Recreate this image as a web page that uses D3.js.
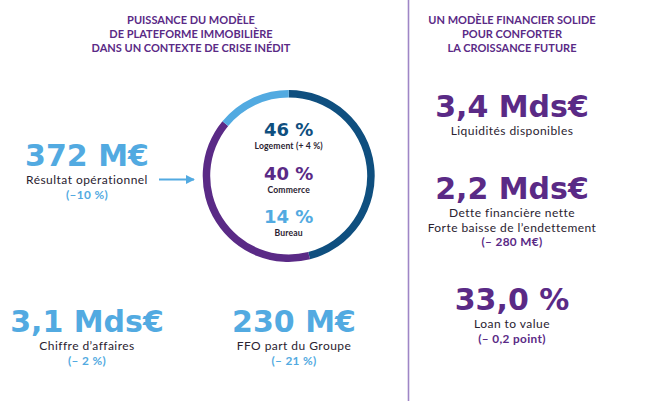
<!DOCTYPE html>
<html><head><meta charset="utf-8">
<script src="https://cdn.jsdelivr.net/npm/d3@7"></script>
<style>
html,body{margin:0;padding:0;background:#fff;}
svg{display:block;}
</style></head>
<body>
<svg id="chart" width="657" height="401"></svg>
<script>
// ---- data ----
const segmentNames = ["Logement (+ 4 %)", "Commerce", "Bureau"];
const segmentShares = [46, 40, 14];
const segmentLabels = ["46 %", "40 %", "14 %"];
const segmentColors = ["#0f4f7f", "#5a2a86", "#52aae1"];

const leftTitle = ["PUISSANCE DU MODÈLE", "DE PLATEFORME IMMOBILIÈRE", "DANS UN CONTEXTE DE CRISE INÉDIT"];
const rightTitle = ["UN MODÈLE FINANCIER SOLIDE", "POUR CONFORTER", "LA CROISSANCE FUTURE"];

const leftKpiValues = ["372 M€", "3,1 Mds€", "230 M€"];
const leftKpiLabels = [["Résultat opérationnel"], ["Chiffre d’affaires"], ["FFO part du Groupe"]];
const leftKpiChanges = ["(–10 %)", "(– 2 %)", "(– 21 %)"];

const rightKpiValues = ["3,4 Mds€", "2,2 Mds€", "33,0 %"];
const rightKpiLabels = [["Liquidités disponibles"], ["Dette financière nette", "Forte baisse de l’endettement"], ["Loan to value"]];
const rightKpiChanges = ["", "(– 280 M€)", "(– 0,2 point)"];

// ---- drawing ----
const svg = d3.select("#chart");
const PURPLE = "#5a2a86", LIGHT = "#52aae1", DARK = "#2a2230";
const bigFont = "'DejaVu Sans', sans-serif";
const smallFont = "Lato, 'Open Sans', sans-serif";

// titles
function title(lines, cx){
  const t = svg.append("text").attr("text-anchor","middle")
    .attr("font-family", smallFont).attr("font-weight", 700)
    .attr("font-size", 11).attr("fill", PURPLE);
  lines.forEach((l,i)=> t.append("tspan").attr("x", cx).attr("y", 24 + i*14).text(l));
}
title(leftTitle, 191);
title(rightTitle, 512);

// divider
svg.append("line").attr("x1", 408.5).attr("x2", 408.5).attr("y1", 0).attr("y2", 401)
  .attr("stroke", "#9f86c6").attr("stroke-width", 1.6);

// ring
const cx = 288.7, cy = 176, R = 86, thick = 7.5;
const pie = d3.pie().sort(null).value(d => d)(segmentShares);
const arc = d3.arc().innerRadius(R - thick).outerRadius(R);
const g = svg.append("g").attr("transform", `translate(${cx},${cy})`);
g.selectAll("path").data(pie).join("path")
  .attr("d", arc).attr("fill", (d,i) => segmentColors[i]);

// centre labels
const centreY = [136.2, 180.2, 223.2];
segmentLabels.forEach((lab,i)=>{
  g.append("text").attr("x", 0).attr("y", centreY[i]-cy)
    .attr("text-anchor","middle").attr("font-family", bigFont).attr("font-weight", 700)
    .attr("font-size", 18).attr("fill", segmentColors[i]).text(lab);
  g.append("text").attr("x", 0).attr("y", centreY[i]-cy+12.9)
    .attr("text-anchor","middle").attr("font-family", smallFont).attr("font-weight", 700)
    .attr("font-size", 8.6).attr("letter-spacing", 0.15).attr("fill", DARK).text(segmentNames[i]);
});

// arrow
const arrowY = 179.5;
svg.append("defs").append("marker").attr("id","ah").attr("viewBox","0 0 10 10")
  .attr("refX", 9).attr("refY", 5).attr("markerWidth", 5).attr("markerHeight", 5)
  .attr("orient","auto").append("path").attr("d","M0,0L10,5L0,10z").attr("fill", LIGHT);
svg.append("line").attr("x1", 159).attr("x2", 194).attr("y1", arrowY).attr("y2", arrowY)
  .attr("stroke", LIGHT).attr("stroke-width", 1.8).attr("marker-end","url(#ah)");

// KPI blocks
function kpi(cxk, baseY, value, labels, change, color, bigSize){
  svg.append("text").attr("x", cxk).attr("y", baseY).attr("text-anchor","middle")
    .attr("font-family", bigFont).attr("font-weight", 700).attr("font-size", bigSize)
    .attr("fill", color).text(value);
  let y = baseY + 18.2;
  labels.forEach((l,i)=>{
    if (i > 0) y += 14.6;
    svg.append("text").attr("x", cxk).attr("y", y).attr("text-anchor","middle")
      .attr("font-family", smallFont).attr("font-size", 12).attr("letter-spacing", 0.45)
      .attr("fill", DARK).text(l);
  });
  if (change){
    svg.append("text").attr("x", cxk).attr("y", y + 14.4).attr("text-anchor","middle")
      .attr("font-family", smallFont).attr("font-weight", 700).attr("font-size", 11.8)
      .attr("letter-spacing", 0.35).attr("fill", color).text(change);
  }
}
const leftPos = [[87, 166], [87, 332], [294, 332]];
leftKpiValues.forEach((v,i)=> kpi(leftPos[i][0], leftPos[i][1], v, leftKpiLabels[i], leftKpiChanges[i], LIGHT, 30));
const rightPos = [[512, 117], [512, 199], [512, 310]];
rightKpiValues.forEach((v,i)=> kpi(rightPos[i][0], rightPos[i][1], v, rightKpiLabels[i], rightKpiChanges[i], PURPLE, 30));
</script>
</body></html>
